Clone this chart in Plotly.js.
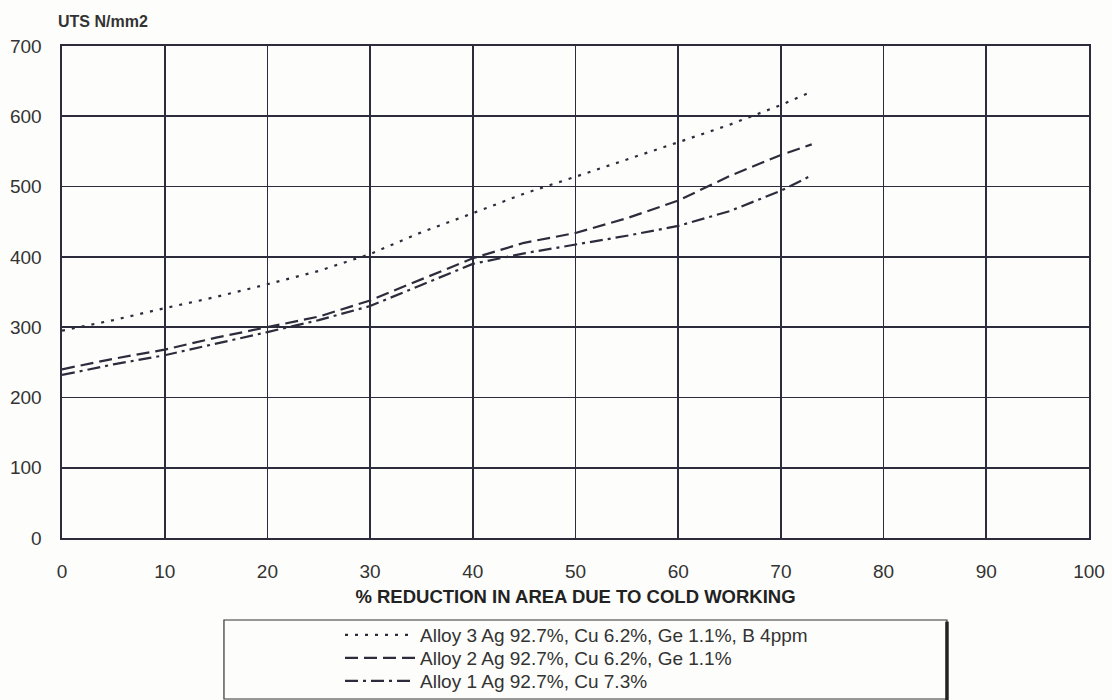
<!DOCTYPE html>
<html>
<head>
<meta charset="utf-8">
<script src="https://cdn.plot.ly/plotly-3.0.1.min.js"></script>
<style>html,body{margin:0;padding:0;background:#fff;}#chart{width:1112px;height:700px;}</style>
</head>
<body>
<div id="chart"></div>
<script>
// % reduction in area due to cold working
const reduction = [0, 5, 10, 15, 20, 25, 30, 35, 40, 45, 50, 55, 60, 65, 70, 73];
// UTS N/mm2
const alloy3 = [295, 310, 327, 343, 361, 380, 404, 435, 462, 490, 514, 538, 563, 588, 616, 635];
const alloy2 = [240, 255, 268, 285, 300, 315, 338, 368, 398, 420, 434, 455, 480, 515, 545, 560];
const alloy1 = [232, 247, 260, 276, 293, 310, 330, 360, 390, 405, 417, 430, 444, 465, 494, 516];
const seriesNames = [
  'Alloy 3 Ag 92.7%, Cu 6.2%, Ge 1.1%, B 4ppm',
  'Alloy 2 Ag 92.7%, Cu 6.2%, Ge 1.1%',
  'Alloy 1 Ag 92.7%, Cu 7.3%'
];
const xTicks = [0, 10, 20, 30, 40, 50, 60, 70, 80, 90, 100];
const yTicks = [0, 100, 200, 300, 400, 500, 600, 700];

const ink = '#2c2c3c';
const font = 'Liberation Sans, Arial, sans-serif';

const traces = [
  {x: reduction, y: alloy3, name: seriesNames[0], mode: 'lines', legend: 'legend',
   line: {color: ink, width: 2.2, dash: '3px,7px'}},
  {x: reduction, y: alloy2, name: seriesNames[1], mode: 'lines', legend: 'legend2',
   line: {color: ink, width: 2.2, dash: '13px,6px'}},
  {x: reduction, y: alloy1, name: seriesNames[2], mode: 'lines', legend: 'legend3',
   line: {color: ink, width: 2.2, dash: '13px,5px,3px,5px'}}
];

function legendAt(yContainer) {
  return {
    x: 0.2707, y: yContainer, xanchor: 'left', yanchor: 'middle', yref: 'container',
    bgcolor: 'rgba(0,0,0,0)', borderwidth: 0, itemwidth: 70,
    font: {family: font, size: 19, color: '#333'}
  };
}

const layout = {
  width: 1112, height: 700,
  margin: {l: 62, r: 23, t: 46, b: 162},
  paper_bgcolor: '#fdfdfb', plot_bgcolor: '#fdfdfb',
  font: {family: font, color: '#333', size: 19},
  showlegend: true,
  legend: legendAt(0.0929),
  legend2: legendAt(0.0600),
  legend3: legendAt(0.0271),
  xaxis: {
    range: [0, 100], tickvals: xTicks, ticktext: xTicks.map(String),
    showgrid: true, gridcolor: ink, gridwidth: 1.6,
    showline: true, linecolor: ink, linewidth: 1.6, mirror: true,
    zeroline: false, ticks: '', ticklabelstandoff: 16,
    tickfont: {size: 19, color: '#333'},
    title: {text: '% REDUCTION IN AREA DUE TO COLD WORKING', standoff: 8,
            font: {size: 18.5, color: '#222', family: font, weight: 'bold'}}
  },
  yaxis: {
    range: [0, 700], tickvals: yTicks, ticktext: yTicks.map(String),
    showgrid: true, gridcolor: ink, gridwidth: 1.6,
    showline: true, linecolor: ink, linewidth: 1.6, mirror: true,
    zeroline: false, ticks: '', ticklabelstandoff: 15,
    tickfont: {size: 19, color: '#333'}
  },
  annotations: [
    {text: '<b>UTS N/mm2</b>', xref: 'paper', yref: 'paper', x: -0.006, y: 1.028,
     xanchor: 'left', yanchor: 'bottom', showarrow: false,
     font: {size: 16, color: '#333', family: font}}
  ],
  shapes: [
    {type: 'rect', xref: 'paper', yref: 'paper', x0: 0.1577, x1: 0.8617, y0: -0.3272, y1: -0.1667,
     line: {color: '#333', width: 1.2}, fillcolor: 'rgba(0,0,0,0)'},
    {type: 'line', xref: 'paper', yref: 'paper', x0: 0.8617, x1: 0.8617, y0: -0.33, y1: -0.1700,
     line: {color: '#222', width: 3.5}}
  ]
};

Plotly.newPlot('chart', traces, layout, {displayModeBar: false, staticPlot: true});
</script>
</body>
</html>
